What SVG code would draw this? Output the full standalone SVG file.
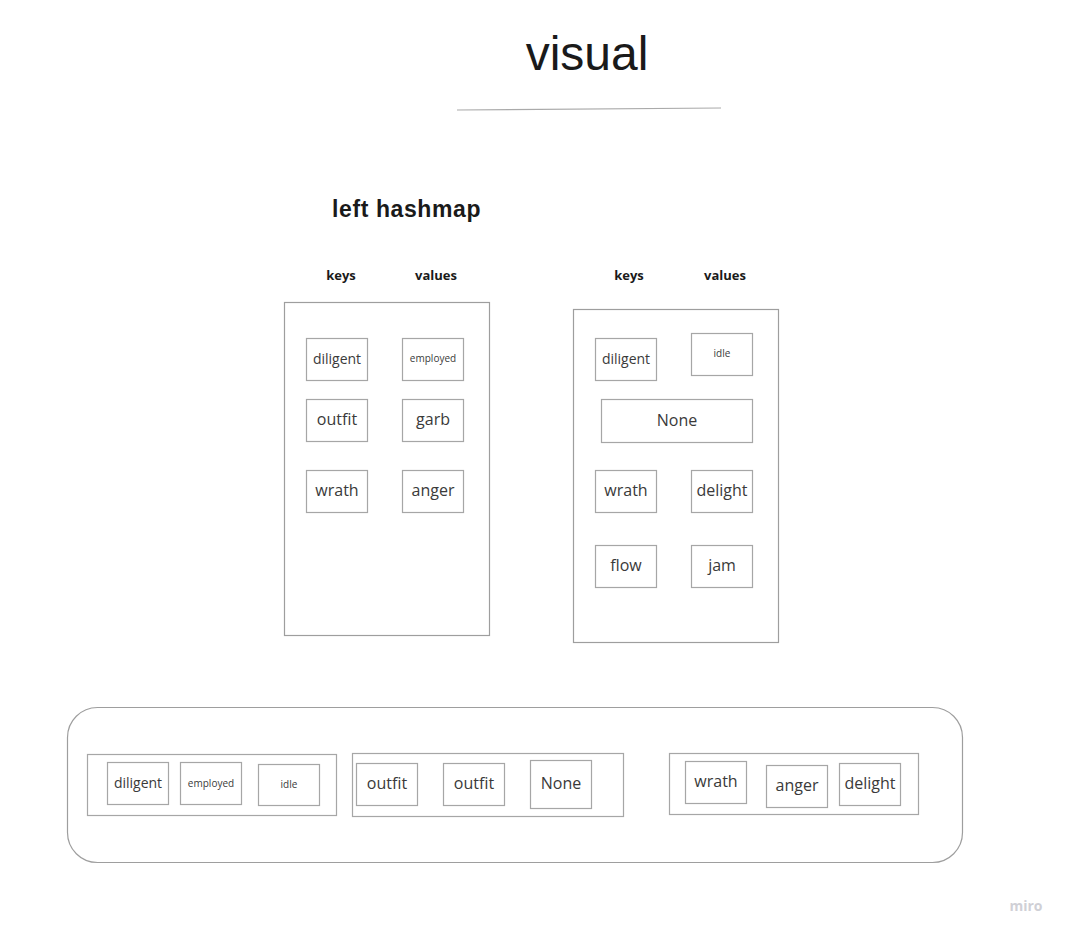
<svg xmlns="http://www.w3.org/2000/svg" width="1068" height="935" viewBox="0 0 1068 935">
<style>
.box{fill:#fff;stroke:#a6a6a6;stroke-width:1.2}
.c{fill:#fff;stroke:#9e9e9e;stroke-width:1.2}
.t{font-family:"Open Sans",sans-serif;fill:#3a3a3a;text-anchor:middle;dominant-baseline:central}
.s14{font-size:14px}.s16{font-size:16px}.s10{font-size:10px}
.h{font-family:"Open Sans",sans-serif;font-weight:bold;font-size:13px;fill:#1a1a1a;text-anchor:middle}
</style>
<rect width="1068" height="935" fill="#fff"/>
<g id="title">
<text x="587" y="70" font-family="Liberation Sans, Arial, sans-serif" font-size="48" fill="#1a1a1a" text-anchor="middle">visual</text>
<line x1="457" y1="110" x2="721" y2="108" stroke="#aaa" stroke-width="1.2"/>
</g>
<g id="heading"><text x="332" y="217" font-family="Liberation Sans, Arial, sans-serif" font-weight="bold" font-size="23" letter-spacing="0.6" fill="#1a1a1a">left hashmap</text></g>
<g id="labels">
<text class="h" x="341" y="280">keys</text><text class="h" x="436" y="280">values</text>
<text class="h" x="629" y="280">keys</text><text class="h" x="725" y="280">values</text>
</g>
<g id="left-map">
<rect class="c" x="284.5" y="302.5" width="205" height="333"/>
<g id="l-diligent"><rect class="box" x="306.5" y="338.5" width="61" height="42"/><text class="t s14" x="337" y="358">diligent</text></g>
<g id="l-employed"><rect class="box" x="402.5" y="338.5" width="61" height="42"/><text class="t s10" x="433" y="358">employed</text></g>
<g id="l-outfit"><rect class="box" x="306.5" y="399.5" width="61" height="42"/><text class="t s16" x="337" y="419">outfit</text></g>
<g id="l-garb"><rect class="box" x="402.5" y="399.5" width="61" height="42"/><text class="t s16" x="433" y="419">garb</text></g>
<g id="l-wrath"><rect class="box" x="306.5" y="470.5" width="61" height="42"/><text class="t s16" x="337" y="490">wrath</text></g>
<g id="l-anger"><rect class="box" x="402.5" y="470.5" width="61" height="42"/><text class="t s16" x="433" y="490">anger</text></g>
</g>
<g id="right-map">
<rect class="c" x="573.5" y="309.5" width="205" height="333"/>
<g id="r-diligent"><rect class="box" x="595.5" y="338.5" width="61" height="42"/><text class="t s14" x="626" y="358">diligent</text></g>
<g id="r-idle"><rect class="box" x="691.5" y="333.5" width="61" height="42"/><text class="t s10" x="722" y="353">idle</text></g>
<g id="r-none"><rect class="box" x="601.5" y="399.5" width="151" height="43"/><text class="t s16" x="677" y="420">None</text></g>
<g id="r-wrath"><rect class="box" x="595.5" y="470.5" width="61" height="42"/><text class="t s16" x="626" y="490">wrath</text></g>
<g id="r-delight"><rect class="box" x="691.5" y="470.5" width="61" height="42"/><text class="t s16" x="722" y="490">delight</text></g>
<g id="r-flow"><rect class="box" x="595.5" y="545.5" width="61" height="42"/><text class="t s16" x="626" y="565">flow</text></g>
<g id="r-jam"><rect class="box" x="691.5" y="545.5" width="61" height="42"/><text class="t s16" x="722" y="565">jam</text></g>
</g>
<g id="bottom">
<rect class="c" x="67.5" y="707.5" width="895" height="155" rx="30"/>
<g id="b-group1">
<rect class="box" x="87.5" y="754.5" width="249" height="61"/>
<g id="b-diligent"><rect class="box" x="107.5" y="762.5" width="61" height="42"/><text class="t s14" x="138" y="782">diligent</text></g>
<g id="b-employed"><rect class="box" x="180.5" y="762.5" width="61" height="42"/><text class="t s10" x="211" y="783">employed</text></g>
<g id="b-idle"><rect class="box" x="258.5" y="764.5" width="61" height="41"/><text class="t s10" x="289" y="784">idle</text></g>
</g>
<g id="b-group2">
<rect class="box" x="352.5" y="753.5" width="271" height="63"/>
<g id="b-outfit1"><rect class="box" x="356.5" y="763.5" width="61" height="42"/><text class="t s16" x="387" y="783">outfit</text></g>
<g id="b-outfit2"><rect class="box" x="443.5" y="763.5" width="61" height="42"/><text class="t s16" x="474" y="783">outfit</text></g>
<g id="b-none"><rect class="box" x="530.5" y="760.5" width="61" height="48"/><text class="t s16" x="561" y="783">None</text></g>
</g>
<g id="b-group3">
<rect class="box" x="669.5" y="753.5" width="249" height="61"/>
<g id="b-wrath"><rect class="box" x="685.5" y="761.5" width="61" height="42"/><text class="t s16" x="716" y="781">wrath</text></g>
<g id="b-anger"><rect class="box" x="766.5" y="765.5" width="61" height="42"/><text class="t s16" x="797" y="785">anger</text></g>
<g id="b-delight"><rect class="box" x="839.5" y="763.5" width="61" height="42"/><text class="t s16" x="870" y="783">delight</text></g>
</g>
</g>
<g id="connectors"></g>
<text x="1026" y="911" font-family="Open Sans, sans-serif" font-weight="bold" font-size="14" fill="#d0d0d6" text-anchor="middle">miro</text>
</svg>
